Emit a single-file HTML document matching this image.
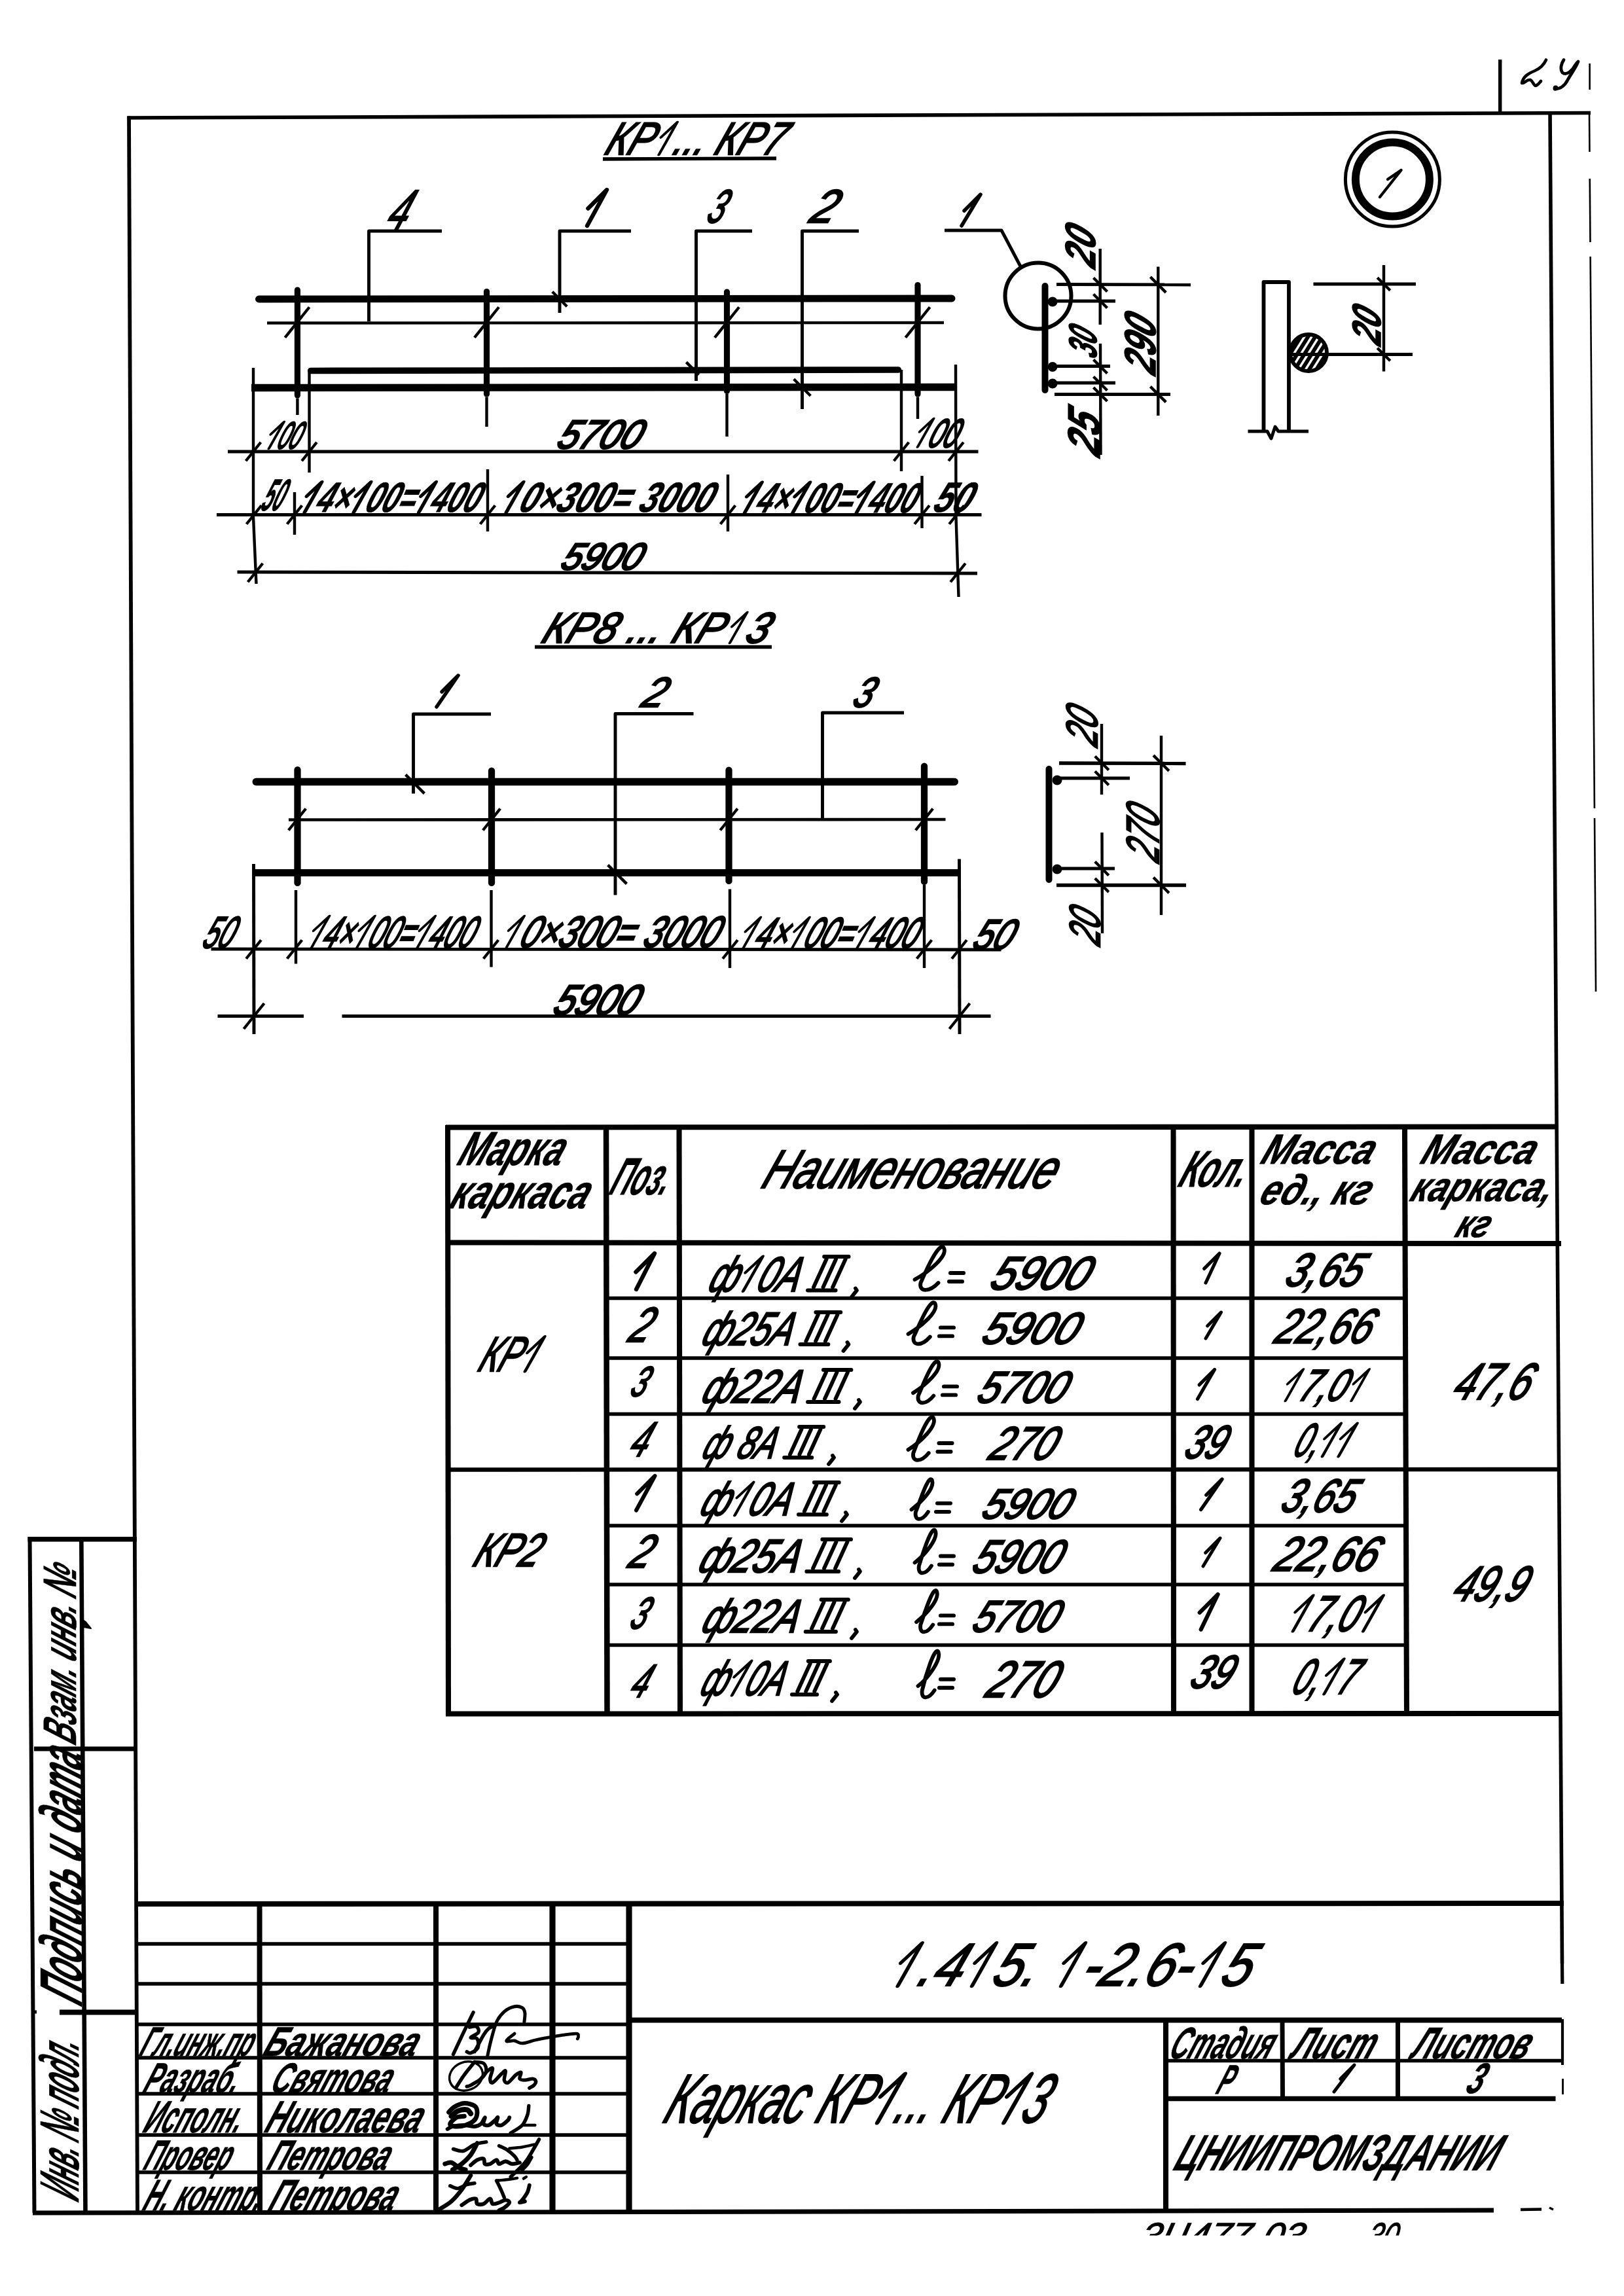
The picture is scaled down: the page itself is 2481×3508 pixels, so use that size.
<!DOCTYPE html>
<html><head><meta charset="utf-8"><title>1.415.1-2.6-15</title>
<style>
html,body{margin:0;padding:0;background:#fff;}
body{width:2481px;height:3508px;overflow:hidden;font-family:"Liberation Sans",sans-serif;}
svg{position:absolute;left:0;top:0;display:block;filter:grayscale(1)}
svg text{font-family:"Liberation Sans",sans-serif;fill:#000;stroke:#000;}
</style></head><body>
<svg width="2481" height="3508" viewBox="0 0 2481 3508" stroke="#000" fill="none">
<line x1="197" y1="177.5" x2="210" y2="3381" stroke-width="5.8"/>
<line x1="194.5" y1="180" x2="2430" y2="172.5" stroke-width="5.6"/>
<line x1="2368" y1="172" x2="2386.5" y2="3000" stroke-width="5.6"/>
<line x1="2386.5" y1="3000" x2="2386.8" y2="3031" stroke-width="5.2"/>
<line x1="2387" y1="3085" x2="2387" y2="3155" stroke-width="4.2"/>
<line x1="2387.5" y1="3176" x2="2387.5" y2="3200" stroke-width="2.9"/>
<line x1="2428.0" y1="173" x2="2428.439642324888" y2="232" stroke-width="2.6"/>
<line x1="2428.7451564828616" y1="273" x2="2429.467958271237" y2="370" stroke-width="2.6"/>
<line x1="2429.6318926974664" y1="392" x2="2435.913561847988" y2="1235" stroke-width="2.6"/>
<line x1="2436.025335320417" y1="1250" x2="2438.0" y2="1515" stroke-width="2.6"/>
<line x1="2291.7" y1="91" x2="2291.7" y2="173" stroke-width="5.4"/>
<line x1="2428.6" y1="97" x2="2428.6" y2="137" stroke-width="2.6"/>
<path d="M2362 91.5 C2358 100,2352 105,2345 108 C2336 112,2327 116,2325 127 C2329 128,2332 121,2338 122 C2342 124,2343 131,2346 131 C2350 130,2352 126,2354 124" stroke-width="4.6" fill="none" stroke-linecap="round" stroke-linejoin="round"/>
<path d="M2389 91.5 C2385 97,2383 106,2387 111 C2393 116,2402 108,2406 100 C2408 97,2410 95,2411 94 C2407 104,2400 113,2395 122 C2391 130,2384 136,2375 136" stroke-width="4.8" fill="none" stroke-linecap="round" stroke-linejoin="round"/>
<circle cx="2376.5" cy="134.5" r="2" stroke-width="3.9" fill="#000"/>
<line x1="45.5" y1="2348" x2="52.5" y2="3381" stroke-width="6"/>
<line x1="124.3" y1="2351" x2="130.5" y2="3381" stroke-width="6.6"/>
<line x1="42.5" y1="2351.7" x2="209" y2="2351.7" stroke-width="7.6"/>
<line x1="52" y1="2672" x2="208" y2="2672" stroke-width="7"/>
<line x1="49" y1="3074" x2="56" y2="3074" stroke-width="5"/>
<line x1="91" y1="3074.5" x2="208.5" y2="3074.5" stroke-width="7.8"/>
<path d="M125 2474 L131 2478 L139 2488 L128 2486 L125 2490 Z" stroke-width="2" fill="#000" stroke-linecap="round" stroke-linejoin="round"/>
<line x1="207" y1="2909" x2="2389" y2="2908" stroke-width="8.05"/>
<line x1="209" y1="2970" x2="961" y2="2970" stroke-width="5.52"/>
<line x1="209" y1="3031" x2="961" y2="3031" stroke-width="5.52"/>
<line x1="209" y1="3093" x2="961" y2="3093" stroke-width="5.52"/>
<line x1="209" y1="3144" x2="961" y2="3144" stroke-width="5.52"/>
<line x1="209" y1="3199" x2="961" y2="3199" stroke-width="5.52"/>
<line x1="209" y1="3262" x2="961" y2="3262" stroke-width="5.52"/>
<line x1="209" y1="3319" x2="961" y2="3319" stroke-width="5.52"/>
<line x1="396.5" y1="2909" x2="397" y2="3380" stroke-width="8.05"/>
<line x1="666" y1="2909" x2="666" y2="3380" stroke-width="8.05"/>
<line x1="844" y1="2909" x2="844" y2="3380" stroke-width="9.15"/>
<line x1="961" y1="2909" x2="961" y2="3380" stroke-width="9.15"/>
<line x1="961" y1="3086.5" x2="2386" y2="3086.5" stroke-width="8.05"/>
<line x1="1781" y1="3086" x2="1781" y2="3379" stroke-width="8.05"/>
<line x1="1781" y1="3148.5" x2="2389" y2="3148.5" stroke-width="5.4"/>
<line x1="1781" y1="3206.5" x2="2376.5" y2="3206.5" stroke-width="7.4"/>
<line x1="1959" y1="3086" x2="1959.5" y2="3206" stroke-width="6.95"/>
<line x1="2135.5" y1="3086" x2="2135.5" y2="3206" stroke-width="6.95"/>
<line x1="50" y1="3381" x2="1000" y2="3379.5" stroke-width="6.95"/>
<line x1="1000" y1="3379.5" x2="2282" y2="3377" stroke-width="6.95"/>
<line x1="2323" y1="3376" x2="2355" y2="3375.5" stroke-width="4.4"/>
<line x1="2367" y1="3373" x2="2373" y2="3376" stroke-width="3.4"/>
<line x1="684" y1="1719" x2="685" y2="2622" stroke-width="8.05"/>
<line x1="681" y1="1722.5" x2="2379" y2="1721.5" stroke-width="8.05"/>
<line x1="681" y1="1898.5" x2="2385" y2="1900" stroke-width="8.05"/>
<line x1="926" y1="1722" x2="927.5" y2="2619" stroke-width="8.49"/>
<line x1="1037.5" y1="1722" x2="1039" y2="2619" stroke-width="8.05"/>
<line x1="1792.5" y1="1722" x2="1793" y2="2619" stroke-width="8.05"/>
<line x1="1912.5" y1="1722" x2="1912.5" y2="2619" stroke-width="8.05"/>
<line x1="2146" y1="1722" x2="2149" y2="2619" stroke-width="8.05"/>
<line x1="926" y1="1983.5" x2="2147" y2="1983.5" stroke-width="5.4"/>
<line x1="926" y1="2075" x2="2147" y2="2075" stroke-width="5.4"/>
<line x1="926" y1="2160.5" x2="2147" y2="2160.5" stroke-width="5.4"/>
<line x1="684" y1="2245.5" x2="2383" y2="2245" stroke-width="6.4"/>
<line x1="927" y1="2331" x2="2148" y2="2331" stroke-width="5.4"/>
<line x1="927" y1="2421" x2="2148" y2="2421" stroke-width="5.4"/>
<line x1="927" y1="2513.5" x2="2148" y2="2513.5" stroke-width="5.4"/>
<line x1="681" y1="2618.5" x2="2384" y2="2618" stroke-width="8.05"/>
<line x1="395.4" y1="457.0" x2="1454.1" y2="456.0" stroke-width="10.8" stroke-linecap="round"/>
<line x1="408" y1="493.5" x2="1442" y2="493" stroke-width="4.4"/>
<line x1="474.8" y1="566.5" x2="1372.2" y2="565.0" stroke-width="9.7" stroke-linecap="round"/>
<line x1="384" y1="592.5" x2="1460" y2="591.5" stroke-width="11.35"/>
<line x1="454.4" y1="443.1" x2="454.4" y2="603.9" stroke-width="9.15" stroke-linecap="round"/>
<line x1="454.4" y1="608.5" x2="454.4" y2="634" stroke-width="4.4"/>
<line x1="743.5" y1="445.6" x2="743.5" y2="601.9" stroke-width="9.15" stroke-linecap="round"/>
<line x1="743.5" y1="606.5" x2="743.5" y2="652" stroke-width="4.4"/>
<line x1="1110.5" y1="446.1" x2="1110.5" y2="597.4" stroke-width="9.15" stroke-linecap="round"/>
<line x1="1110.5" y1="602" x2="1110.5" y2="667" stroke-width="4.4"/>
<line x1="1402.0" y1="435.6" x2="1402.0" y2="601.9" stroke-width="9.15" stroke-linecap="round"/>
<line x1="1402" y1="606.5" x2="1402" y2="640" stroke-width="4.4"/>
<path d="M387 562 L387 790 L391.5 892" stroke-width="4.4" fill="none" stroke-linecap="butt" stroke-linejoin="round"/>
<line x1="472.5" y1="565" x2="472.5" y2="722" stroke-width="4.4"/>
<line x1="1377" y1="565" x2="1377" y2="720" stroke-width="4.4"/>
<path d="M1460 557 L1460.5 790 L1464.5 912" stroke-width="4.4" fill="none" stroke-linecap="butt" stroke-linejoin="round"/>
<line x1="348" y1="690" x2="1494.5" y2="690" stroke-width="4.9"/>
<line x1="331" y1="786.5" x2="1499.5" y2="786.5" stroke-width="4.9"/>
<line x1="362.5" y1="874" x2="1493" y2="876" stroke-width="4.9"/>
<line x1="450" y1="752" x2="450" y2="817" stroke-width="4.4"/>
<line x1="745" y1="717" x2="745" y2="812" stroke-width="4.4"/>
<line x1="1112" y1="725" x2="1112" y2="812" stroke-width="4.4"/>
<line x1="1408.5" y1="727" x2="1408.5" y2="807" stroke-width="4.4"/>
<line x1="375.6" y1="704.25" x2="398.4" y2="675.75" stroke-width="4.4"/>
<line x1="461.1" y1="704.25" x2="483.9" y2="675.75" stroke-width="4.4"/>
<line x1="1365.6" y1="704.25" x2="1388.4" y2="675.75" stroke-width="4.4"/>
<line x1="1449.1" y1="704.25" x2="1471.9" y2="675.75" stroke-width="4.4"/>
<line x1="376.6" y1="800.75" x2="399.4" y2="772.25" stroke-width="4.4"/>
<line x1="438.6" y1="800.75" x2="461.4" y2="772.25" stroke-width="4.4"/>
<line x1="733.6" y1="800.75" x2="756.4" y2="772.25" stroke-width="4.4"/>
<line x1="1100.6" y1="800.75" x2="1123.4" y2="772.25" stroke-width="4.4"/>
<line x1="1397.1" y1="800.75" x2="1419.9" y2="772.25" stroke-width="4.4"/>
<line x1="1450.1" y1="800.75" x2="1472.9" y2="772.25" stroke-width="4.4"/>
<line x1="378.6" y1="889.25" x2="401.4" y2="860.75" stroke-width="4.4"/>
<line x1="1452.1" y1="889.25" x2="1474.9" y2="860.75" stroke-width="4.4"/>
<line x1="435.4" y1="515.75" x2="472.6" y2="469.25" stroke-width="4.4"/>
<line x1="724.9" y1="515.75" x2="762.1" y2="469.25" stroke-width="4.4"/>
<line x1="1091.9" y1="515.75" x2="1129.1" y2="469.25" stroke-width="4.4"/>
<line x1="1383.4" y1="515.75" x2="1420.6" y2="469.25" stroke-width="4.4"/>
<path d="M675 353 L563.5 353 L563.5 491" stroke-width="4.9" fill="none" stroke-linecap="butt" stroke-linejoin="round"/>
<path d="M964 353 L855 353 L855 478" stroke-width="4.9" fill="none" stroke-linecap="butt" stroke-linejoin="round"/>
<path d="M1149 353 L1063.5 353 L1063.5 582" stroke-width="4.9" fill="none" stroke-linecap="butt" stroke-linejoin="round"/>
<path d="M1312 353 L1225.5 353 L1225.5 625" stroke-width="4.9" fill="none" stroke-linecap="butt" stroke-linejoin="round"/>
<path d="M1443 352 L1530 352 L1559 407" stroke-width="4.9" fill="none" stroke-linecap="butt" stroke-linejoin="round"/>
<line x1="843.8" y1="445.8" x2="866.2" y2="468.2" stroke-width="4.4"/>
<line x1="1048.4" y1="553.4" x2="1067.6" y2="572.6" stroke-width="4.4"/>
<line x1="1212.7" y1="579.2" x2="1238.3" y2="604.8" stroke-width="4.4"/>
<circle cx="1586" cy="452" r="50.5" stroke-width="6" fill="none"/>
<line x1="1596.5" y1="437.0" x2="1596.5" y2="596.0" stroke-width="10" stroke-linecap="round"/>
<line x1="1614" y1="434.5" x2="1819" y2="435" stroke-width="4.9"/>
<circle cx="1608" cy="461" r="7.5" stroke-width="0" fill="#000"/>
<line x1="1608" y1="460" x2="1704" y2="460" stroke-width="4.9"/>
<circle cx="1608" cy="560.5" r="7.5" stroke-width="0" fill="#000"/>
<line x1="1608" y1="559.5" x2="1696" y2="559.5" stroke-width="4.9"/>
<circle cx="1608" cy="586" r="7.5" stroke-width="0" fill="#000"/>
<line x1="1608" y1="585" x2="1704" y2="585" stroke-width="4.9"/>
<line x1="1611" y1="602.5" x2="1788" y2="602.5" stroke-width="4.9"/>
<line x1="1680.7" y1="380" x2="1680.7" y2="496" stroke-width="4.4"/>
<line x1="1681" y1="525" x2="1681.5" y2="695" stroke-width="4.4"/>
<line x1="1769.3" y1="407.5" x2="1769.3" y2="635" stroke-width="4.4"/>
<line x1="1670.5" y1="424.5" x2="1691.5" y2="445.5" stroke-width="4.4"/>
<line x1="1670.5" y1="449.5" x2="1691.5" y2="470.5" stroke-width="4.4"/>
<line x1="1670.5" y1="549.5" x2="1691.5" y2="570.5" stroke-width="4.4"/>
<line x1="1670.5" y1="575.5" x2="1691.5" y2="596.5" stroke-width="4.4"/>
<line x1="1670.5" y1="592.0" x2="1691.5" y2="613.0" stroke-width="4.4"/>
<line x1="1757.3999999999999" y1="423.1" x2="1781.2" y2="446.9" stroke-width="4.4"/>
<line x1="1757.3999999999999" y1="590.6" x2="1781.2" y2="614.4" stroke-width="4.4"/>
<path d="M1930.5 659 L1930.5 431 L1969 431 L1969 659" stroke-width="5.85" fill="none" stroke-linecap="butt" stroke-linejoin="round"/>
<path d="M1906.5 659 L1936 659 L1942 670 L1948 652 L1953 659 L1999 659" stroke-width="4.9" fill="none" stroke-linecap="butt" stroke-linejoin="round"/>
<defs><clipPath id="hc"><circle cx="1999" cy="539" r="29"/></clipPath></defs>
<circle cx="1999" cy="539" r="28" stroke-width="5.85" fill="none"/>
<g clip-path="url(#hc)">
<line x1="1919" y1="571" x2="1959" y2="507" stroke-width="5.85"/>
<line x1="1930" y1="571" x2="1970" y2="507" stroke-width="5.85"/>
<line x1="1941" y1="571" x2="1981" y2="507" stroke-width="5.85"/>
<line x1="1952" y1="571" x2="1992" y2="507" stroke-width="5.85"/>
<line x1="1963" y1="571" x2="2003" y2="507" stroke-width="5.85"/>
<line x1="1974" y1="571" x2="2014" y2="507" stroke-width="5.85"/>
<line x1="1985" y1="571" x2="2025" y2="507" stroke-width="5.85"/>
<line x1="1996" y1="571" x2="2036" y2="507" stroke-width="5.85"/>
<line x1="2007" y1="571" x2="2047" y2="507" stroke-width="5.85"/>
<line x1="2018" y1="571" x2="2058" y2="507" stroke-width="5.85"/>
<line x1="2029" y1="571" x2="2069" y2="507" stroke-width="5.85"/>
<line x1="2040" y1="571" x2="2080" y2="507" stroke-width="5.85"/>
</g>
<line x1="1969" y1="541.5" x2="2158" y2="541.5" stroke-width="4.9"/>
<line x1="2006.5" y1="434" x2="2163" y2="434" stroke-width="4.9"/>
<line x1="2114" y1="405" x2="2114" y2="567.5" stroke-width="4.4"/>
<line x1="2104.2" y1="424.2" x2="2123.8" y2="443.8" stroke-width="4.4"/>
<line x1="2104.2" y1="531.7" x2="2123.8" y2="551.3" stroke-width="4.4"/>
<circle cx="2127.4" cy="274" r="72" stroke-width="5" fill="none"/>
<circle cx="2127.4" cy="274" r="56.5" stroke-width="12" fill="none"/>
<path d="M2108 301 L2140.5 260 M2140.5 260 L2120 274" stroke-width="4.4" fill="none" stroke-linecap="round" stroke-linejoin="round"/>
<line x1="391.2" y1="1194.5" x2="1458.3" y2="1194.5" stroke-width="11.35" stroke-linecap="round"/>
<line x1="441" y1="1252.5" x2="1444.5" y2="1252" stroke-width="4.6"/>
<line x1="386.5" y1="1333.5" x2="1464.5" y2="1333.5" stroke-width="10.8"/>
<line x1="454.5" y1="1176.1" x2="454.5" y2="1348.9" stroke-width="10.25" stroke-linecap="round"/>
<line x1="452" y1="1360" x2="452" y2="1472.5" stroke-width="4.4"/>
<line x1="751.0" y1="1177.6" x2="751.0" y2="1348.9" stroke-width="10.25" stroke-linecap="round"/>
<line x1="750.5" y1="1360" x2="750.5" y2="1477.5" stroke-width="4.4"/>
<line x1="1113.5" y1="1176.6" x2="1113.5" y2="1345.9" stroke-width="10.25" stroke-linecap="round"/>
<line x1="1115" y1="1358.5" x2="1115" y2="1479" stroke-width="4.4"/>
<line x1="1412.0" y1="1170.6" x2="1412.0" y2="1346.9" stroke-width="10.25" stroke-linecap="round"/>
<line x1="1412" y1="1352" x2="1412" y2="1479" stroke-width="4.4"/>
<line x1="387.5" y1="1320" x2="388" y2="1580" stroke-width="4.9"/>
<line x1="1465.5" y1="1312.5" x2="1466" y2="1580" stroke-width="4.9"/>
<line x1="322.5" y1="1450" x2="1529.5" y2="1451" stroke-width="4.9"/>
<line x1="332.5" y1="1552.5" x2="464" y2="1552.5" stroke-width="4.9"/>
<line x1="522.5" y1="1552.5" x2="1513.5" y2="1552.5" stroke-width="4.9"/>
<path d="M750 1091 L631.5 1091 L631.5 1212.5" stroke-width="4.9" fill="none" stroke-linecap="butt" stroke-linejoin="round"/>
<path d="M1059.5 1090.5 L940 1090.5 L940 1367.5" stroke-width="4.9" fill="none" stroke-linecap="butt" stroke-linejoin="round"/>
<path d="M1381 1089 L1256.5 1089 L1256.5 1250" stroke-width="4.9" fill="none" stroke-linecap="butt" stroke-linejoin="round"/>
<line x1="376.1" y1="1464.75" x2="398.9" y2="1436.25" stroke-width="4.4"/>
<line x1="438.6" y1="1464.75" x2="461.4" y2="1436.25" stroke-width="4.4"/>
<line x1="738.6" y1="1464.75" x2="761.4" y2="1436.25" stroke-width="4.4"/>
<line x1="1104.1" y1="1464.75" x2="1126.9" y2="1436.25" stroke-width="4.4"/>
<line x1="1400.6" y1="1464.75" x2="1423.4" y2="1436.25" stroke-width="4.4"/>
<line x1="1454.1" y1="1464.75" x2="1476.9" y2="1436.25" stroke-width="4.4"/>
<line x1="372.4" y1="1572.0" x2="403.6" y2="1533.0" stroke-width="4.4"/>
<line x1="1450.4" y1="1572.0" x2="1481.6" y2="1533.0" stroke-width="4.4"/>
<line x1="440.8" y1="1268.5" x2="467.2" y2="1235.5" stroke-width="4.4"/>
<line x1="737.8" y1="1268.5" x2="764.2" y2="1235.5" stroke-width="4.4"/>
<line x1="1100.3" y1="1268.5" x2="1126.7" y2="1235.5" stroke-width="4.4"/>
<line x1="1398.8" y1="1268.5" x2="1425.2" y2="1235.5" stroke-width="4.4"/>
<line x1="619.6" y1="1183.6" x2="648.4" y2="1212.4" stroke-width="4.4"/>
<line x1="928.6" y1="1321.6" x2="957.4" y2="1350.4" stroke-width="4.4"/>
<line x1="1602.5" y1="1175.0" x2="1602.5" y2="1344.0" stroke-width="10" stroke-linecap="round"/>
<line x1="1618" y1="1166" x2="1811.5" y2="1166.5" stroke-width="5.4"/>
<line x1="1614" y1="1352.5" x2="1812" y2="1352.5" stroke-width="5.4"/>
<circle cx="1615" cy="1192" r="7.5" stroke-width="0" fill="#000"/>
<line x1="1615" y1="1189" x2="1726" y2="1189" stroke-width="4.9"/>
<circle cx="1615" cy="1328" r="7.5" stroke-width="0" fill="#000"/>
<line x1="1615" y1="1327" x2="1703" y2="1327" stroke-width="4.9"/>
<line x1="1683" y1="1106" x2="1683" y2="1214" stroke-width="4.4"/>
<line x1="1683.5" y1="1272" x2="1684" y2="1426" stroke-width="4.4"/>
<line x1="1774" y1="1124" x2="1774" y2="1398" stroke-width="4.4"/>
<line x1="1672.8" y1="1155.5" x2="1693.8" y2="1176.5" stroke-width="4.4"/>
<line x1="1672.8" y1="1178.5" x2="1693.8" y2="1199.5" stroke-width="4.4"/>
<line x1="1672.8" y1="1316.5" x2="1693.8" y2="1337.5" stroke-width="4.4"/>
<line x1="1672.8" y1="1342.0" x2="1693.8" y2="1363.0" stroke-width="4.4"/>
<line x1="1762.1" y1="1154.1" x2="1785.9" y2="1177.9" stroke-width="4.4"/>
<line x1="1762.1" y1="1340.6" x2="1785.9" y2="1364.4" stroke-width="4.4"/>
<g transform="translate(921.5,236.0) skewX(-22)" font-style="italic" font-size="70.0" stroke-width="2.6">
<text x="0.0" y="0" textLength="71.9" lengthAdjust="spacingAndGlyphs">КР</text>
<path d="M85.3 0 L93.1 -49.0 L77.9 -26.5" stroke-width="4.7" stroke-linecap="round" stroke-linejoin="round"/>
<text x="103.7" y="0" textLength="167.4" lengthAdjust="spacingAndGlyphs">... КР7</text>
</g>
<line x1="921" y1="243" x2="1186" y2="242" stroke-width="5.4"/>
<g transform="translate(587.0,350.0) skewX(-22)" font-style="italic" font-size="85.7" stroke-width="2.6">
<text x="0.0" y="0" textLength="30.9" lengthAdjust="spacingAndGlyphs">4</text>
</g>
<path d="M897.0 345.0 L927.0 290.0 L898.4 318.6" stroke-width="6.325" fill="none" stroke-linecap="round" stroke-linejoin="round"/>
<g transform="translate(1076.5,340.0) skewX(-22)" font-style="italic" font-size="71.4" stroke-width="2.6">
<text x="0.0" y="0" textLength="25.7" lengthAdjust="spacingAndGlyphs">3</text>
</g>
<g transform="translate(1234.0,340.0) skewX(-22)" font-style="italic" font-size="71.4" stroke-width="2.6">
<text x="0.0" y="0" textLength="37.8" lengthAdjust="spacingAndGlyphs">2</text>
</g>
<path d="M1469.0 345.0 L1498.0 297.0 L1473.0 322.0" stroke-width="5.5200000000000005" fill="none" stroke-linecap="round" stroke-linejoin="round"/>
<g transform="translate(403.8,685.0) skewX(-22)" font-style="italic" font-size="57.1" stroke-width="3.0">
<path d="M7.2 0 L13.6 -40.0 L1.2 -21.6" stroke-width="4.5" stroke-linecap="round" stroke-linejoin="round"/>
<text x="17.1" y="0" textLength="34.2" lengthAdjust="spacingAndGlyphs">00</text>
</g>
<g transform="translate(848.0,685.0) skewX(-22)" font-style="italic" font-size="61.4" stroke-width="3.0">
<text x="0.0" y="0" textLength="126.7" lengthAdjust="spacingAndGlyphs">5700</text>
</g>
<g transform="translate(1392.9,682.5) skewX(-22)" font-style="italic" font-size="60.7" stroke-width="3.0">
<path d="M9.2 0 L16.0 -42.5 L2.9 -23.0" stroke-width="4.5" stroke-linecap="round" stroke-linejoin="round"/>
<text x="22.0" y="0" textLength="44.0" lengthAdjust="spacingAndGlyphs">00</text>
</g>
<g transform="translate(396.2,780.0) skewX(-22)" font-style="italic" font-weight="bold" font-size="68.6" stroke-width="0.9">
<text x="0.0" y="0" textLength="32.1" lengthAdjust="spacingAndGlyphs">50</text>
</g>
<g transform="translate(455.5,782.0) skewX(-22)" font-style="italic" font-weight="bold" font-size="64.3" stroke-width="0.9">
<path d="M10.3 0 L17.5 -45.0 L3.6 -24.3" stroke-width="6.1" stroke-linecap="round" stroke-linejoin="round"/>
<text x="24.6" y="0" textLength="50.4" lengthAdjust="spacingAndGlyphs">4×</text>
<path d="M85.3 0 L92.5 -45.0 L78.5 -24.3" stroke-width="6.1" stroke-linecap="round" stroke-linejoin="round"/>
<text x="99.5" y="0" textLength="75.0" lengthAdjust="spacingAndGlyphs">00=</text>
<path d="M184.8 0 L192.0 -45.0 L178.1 -24.3" stroke-width="6.1" stroke-linecap="round" stroke-linejoin="round"/>
<text x="199.1" y="0" textLength="73.7" lengthAdjust="spacingAndGlyphs">400</text>
</g>
<g transform="translate(762.3,782.0) skewX(-22)" font-style="italic" font-weight="bold" font-size="64.3" stroke-width="0.9">
<path d="M11.6 0 L18.8 -45.0 L4.9 -24.3" stroke-width="6.1" stroke-linecap="round" stroke-linejoin="round"/>
<text x="27.7" y="0" textLength="293.9" lengthAdjust="spacingAndGlyphs">0×300= 3000</text>
</g>
<g transform="translate(1128.1,782.5) skewX(-22)" font-style="italic" font-weight="bold" font-size="64.3" stroke-width="0.9">
<path d="M10.1 0 L17.3 -45.0 L3.4 -24.3" stroke-width="6.1" stroke-linecap="round" stroke-linejoin="round"/>
<text x="24.1" y="0" textLength="49.3" lengthAdjust="spacingAndGlyphs">4×</text>
<path d="M83.5 0 L90.7 -45.0 L76.7 -24.3" stroke-width="6.1" stroke-linecap="round" stroke-linejoin="round"/>
<text x="97.4" y="0" textLength="73.4" lengthAdjust="spacingAndGlyphs">00=</text>
<path d="M180.9 0 L188.1 -45.0 L174.2 -24.3" stroke-width="6.1" stroke-linecap="round" stroke-linejoin="round"/>
<text x="194.9" y="0" textLength="72.2" lengthAdjust="spacingAndGlyphs">400</text>
</g>
<g transform="translate(1423.1,782.0) skewX(-22)" font-style="italic" font-weight="bold" font-size="64.3" stroke-width="0.9">
<text x="0.0" y="0" textLength="57.0" lengthAdjust="spacingAndGlyphs">50</text>
</g>
<g transform="translate(854.1,870.0) skewX(-22)" font-style="italic" font-size="57.1" stroke-width="3.0">
<text x="0.0" y="0" textLength="121.6" lengthAdjust="spacingAndGlyphs">5900</text>
</g>
<g transform="translate(824.8,982.0) skewX(-22)" font-style="italic" font-size="65.7" stroke-width="2.6">
<text x="0.0" y="0" textLength="276.0" lengthAdjust="spacingAndGlyphs">КР8 ... КР</text>
<path d="M290.4 0 L297.8 -46.0 L283.5 -24.8" stroke-width="4.5" stroke-linecap="round" stroke-linejoin="round"/>
<text x="310.4" y="0" textLength="34.4" lengthAdjust="spacingAndGlyphs">3</text>
</g>
<line x1="817" y1="988.5" x2="1179" y2="988.5" stroke-width="5.4"/>
<text transform="translate(1673.0,412.0) rotate(-90) skewX(-22)" font-style="italic" font-weight="bold" font-size="65.0" textLength="58.1" lengthAdjust="spacingAndGlyphs" stroke-width="1.6">20</text>
<text transform="translate(1675.0,549.4) rotate(-90) skewX(-22)" font-style="italic" font-weight="bold" font-size="60.0" textLength="41.7" lengthAdjust="spacingAndGlyphs" stroke-width="1.6">30</text>
<text transform="translate(1765.0,575.0) rotate(-90) skewX(-22)" font-style="italic" font-weight="bold" font-size="67.1" textLength="85.3" lengthAdjust="spacingAndGlyphs" stroke-width="1.6">290</text>
<text transform="translate(1679.6,700.0) rotate(-90) skewX(-22)" font-style="italic" font-weight="bold" font-size="69.4" textLength="63.4" lengthAdjust="spacingAndGlyphs" stroke-width="1.6">25</text>
<text transform="translate(2109.0,530.0) rotate(-90) skewX(-22)" font-style="italic" font-weight="bold" font-size="61.4" textLength="52.6" lengthAdjust="spacingAndGlyphs" stroke-width="1.6">20</text>
<path d="M667.0 1080.0 L700.0 1032.0 L675.0 1057.0" stroke-width="5.5200000000000005" fill="none" stroke-linecap="round" stroke-linejoin="round"/>
<g transform="translate(977.0,1080.0) skewX(-22)" font-style="italic" font-size="64.3" stroke-width="2.6">
<text x="0.0" y="0" textLength="34.3" lengthAdjust="spacingAndGlyphs">2</text>
</g>
<g transform="translate(1299.5,1080.0) skewX(-22)" font-style="italic" font-size="64.3" stroke-width="2.6">
<text x="0.0" y="0" textLength="29.3" lengthAdjust="spacingAndGlyphs">3</text>
</g>
<g transform="translate(306.4,1447.5) skewX(-22)" font-style="italic" font-size="67.9" stroke-width="2.8">
<text x="0.0" y="0" textLength="45.5" lengthAdjust="spacingAndGlyphs">50</text>
</g>
<g transform="translate(466.5,1447.5) skewX(-22)" font-style="italic" font-size="67.9" stroke-width="2.8">
<path d="M9.6 0 L17.2 -47.5 L2.4 -25.7" stroke-width="4.5" stroke-linecap="round" stroke-linejoin="round"/>
<text x="22.8" y="0" textLength="46.7" lengthAdjust="spacingAndGlyphs">4×</text>
<path d="M79.0 0 L86.6 -47.5 L71.9 -25.7" stroke-width="4.5" stroke-linecap="round" stroke-linejoin="round"/>
<text x="92.3" y="0" textLength="69.5" lengthAdjust="spacingAndGlyphs">00=</text>
<path d="M171.3 0 L178.9 -47.5 L164.2 -25.7" stroke-width="4.5" stroke-linecap="round" stroke-linejoin="round"/>
<text x="184.5" y="0" textLength="68.3" lengthAdjust="spacingAndGlyphs">400</text>
</g>
<g transform="translate(762.1,1447.0) skewX(-22)" font-style="italic" font-size="67.1" stroke-width="2.8">
<path d="M12.0 0 L19.5 -47.0 L4.9 -25.4" stroke-width="4.5" stroke-linecap="round" stroke-linejoin="round"/>
<text x="28.6" y="0" textLength="302.7" lengthAdjust="spacingAndGlyphs">0×300= 3000</text>
</g>
<g transform="translate(1125.5,1448.0) skewX(-22)" font-style="italic" font-size="65.7" stroke-width="2.8">
<path d="M10.3 0 L17.6 -46.0 L3.4 -24.8" stroke-width="4.5" stroke-linecap="round" stroke-linejoin="round"/>
<text x="24.5" y="0" textLength="50.2" lengthAdjust="spacingAndGlyphs">4×</text>
<path d="M85.0 0 L92.3 -46.0 L78.1 -24.8" stroke-width="4.5" stroke-linecap="round" stroke-linejoin="round"/>
<text x="99.2" y="0" textLength="74.7" lengthAdjust="spacingAndGlyphs">00=</text>
<path d="M184.2 0 L191.5 -46.0 L177.3 -24.8" stroke-width="4.5" stroke-linecap="round" stroke-linejoin="round"/>
<text x="198.4" y="0" textLength="73.5" lengthAdjust="spacingAndGlyphs">400</text>
</g>
<g transform="translate(1483.1,1450.0) skewX(-22)" font-style="italic" font-size="64.3" stroke-width="2.8">
<text x="0.0" y="0" textLength="59.7" lengthAdjust="spacingAndGlyphs">50</text>
</g>
<g transform="translate(842.0,1550.0) skewX(-22)" font-style="italic" font-size="64.3" stroke-width="3.0">
<text x="0.0" y="0" textLength="127.9" lengthAdjust="spacingAndGlyphs">5900</text>
</g>
<text transform="translate(1676.0,1143.0) rotate(-90) skewX(-22)" font-style="italic" font-weight="normal" font-size="67.1" textLength="54.0" lengthAdjust="spacingAndGlyphs" stroke-width="2.8">20</text>
<text transform="translate(1770.0,1320.0) rotate(-90) skewX(-22)" font-style="italic" font-weight="normal" font-size="70.0" textLength="80.2" lengthAdjust="spacingAndGlyphs" stroke-width="2.8">270</text>
<text transform="translate(1680.0,1447.0) rotate(-90) skewX(-22)" font-style="italic" font-weight="normal" font-size="65.7" textLength="50.4" lengthAdjust="spacingAndGlyphs" stroke-width="2.8">20</text>
<g transform="translate(696.2,1780.0) skewX(-22)" font-style="italic" font-weight="bold" font-size="72.9" stroke-width="0.9">
<text x="0.0" y="0" textLength="159.0" lengthAdjust="spacingAndGlyphs">Марка</text>
</g>
<g transform="translate(684.0,1846.0) skewX(-22)" font-style="italic" font-weight="bold" font-size="72.0" stroke-width="0.9">
<text x="0.0" y="0" textLength="209.6" lengthAdjust="spacingAndGlyphs">каркаса</text>
</g>
<g transform="translate(928.4,1825.0) skewX(-22)" font-style="italic" font-weight="bold" font-size="80.0" stroke-width="0.9">
<text x="0.0" y="0" textLength="87.0" lengthAdjust="spacingAndGlyphs">Поз.</text>
</g>
<g transform="translate(1160.4,1815.0) skewX(-22)" font-style="italic" font-size="82.9" stroke-width="2.4">
<text x="0.0" y="0" textLength="446.8" lengthAdjust="spacingAndGlyphs">Наименование</text>
</g>
<g transform="translate(1797.6,1812.5) skewX(-22)" font-style="italic" font-weight="bold" font-size="78.6" stroke-width="0.9">
<text x="0.0" y="0" textLength="99.2" lengthAdjust="spacingAndGlyphs">Кол.</text>
</g>
<g transform="translate(1923.5,1777.5) skewX(-22)" font-style="italic" font-weight="bold" font-size="64.3" stroke-width="0.9">
<text x="0.0" y="0" textLength="169.9" lengthAdjust="spacingAndGlyphs">Масса</text>
</g>
<g transform="translate(1921.0,1840.0) skewX(-22)" font-style="italic" font-weight="bold" font-size="64.4" stroke-width="0.9">
<text x="0.0" y="0" textLength="166.7" lengthAdjust="spacingAndGlyphs">ед., кг</text>
</g>
<g transform="translate(2167.4,1777.5) skewX(-22)" font-style="italic" font-weight="bold" font-size="64.3" stroke-width="0.9">
<text x="0.0" y="0" textLength="172.5" lengthAdjust="spacingAndGlyphs">Масса</text>
</g>
<g transform="translate(2151.4,1835.0) skewX(-22)" font-style="italic" font-weight="bold" font-size="62.5" stroke-width="0.9">
<text x="0.0" y="0" textLength="214.4" lengthAdjust="spacingAndGlyphs">каркаса,</text>
</g>
<g transform="translate(2220.3,1890.0) skewX(-22)" font-style="italic" font-weight="bold" font-size="58.7" stroke-width="0.9">
<text x="0.0" y="0" textLength="49.8" lengthAdjust="spacingAndGlyphs">кг</text>
</g>
<g transform="translate(727.8,2095.0) skewX(-22)" font-style="italic" font-size="75.0" stroke-width="2.6">
<text x="0.0" y="0" textLength="62.8" lengthAdjust="spacingAndGlyphs">КР</text>
<path d="M74.5 0 L82.9 -52.5 L66.6 -28.4" stroke-width="5.0" stroke-linecap="round" stroke-linejoin="round"/>
</g>
<g transform="translate(720.1,2392.5) skewX(-22)" font-style="italic" font-size="71.4" stroke-width="2.6">
<text x="0.0" y="0" textLength="99.5" lengthAdjust="spacingAndGlyphs">КР2</text>
</g>
<path d="M972.0 1970.0 L1000.0 1915.0 L971.4 1943.6" stroke-width="6.325" fill="none" stroke-linecap="round" stroke-linejoin="round"/>
<g transform="translate(957.0,2050.0) skewX(-22)" font-style="italic" font-size="75.0" stroke-width="2.6">
<text x="0.0" y="0" textLength="31.8" lengthAdjust="spacingAndGlyphs">2</text>
</g>
<g transform="translate(960.0,2132.5) skewX(-22)" font-style="italic" font-size="64.3" stroke-width="2.6">
<text x="0.0" y="0" textLength="23.8" lengthAdjust="spacingAndGlyphs">3</text>
</g>
<g transform="translate(958.4,2225.0) skewX(-22)" font-style="italic" font-size="75.0" stroke-width="2.6">
<text x="0.0" y="0" textLength="27.0" lengthAdjust="spacingAndGlyphs">4</text>
</g>
<path d="M972.0 2307.5 L1000.5 2255.0 L973.2 2282.3" stroke-width="6.0375000000000005" fill="none" stroke-linecap="round" stroke-linejoin="round"/>
<g transform="translate(957.0,2395.0) skewX(-22)" font-style="italic" font-size="71.4" stroke-width="2.6">
<text x="0.0" y="0" textLength="32.8" lengthAdjust="spacingAndGlyphs">2</text>
</g>
<g transform="translate(959.2,2487.5) skewX(-22)" font-style="italic" font-size="67.9" stroke-width="2.6">
<text x="0.0" y="0" textLength="24.4" lengthAdjust="spacingAndGlyphs">3</text>
</g>
<g transform="translate(959.5,2592.5) skewX(-22)" font-style="italic" font-size="71.4" stroke-width="2.6">
<text x="0.0" y="0" textLength="25.7" lengthAdjust="spacingAndGlyphs">4</text>
</g>
<g transform="translate(1079.2,1972.5) skewX(-22)" font-style="italic" font-size="75.0" stroke-width="2.6">
<text x="0.0" y="0" textLength="44.0" lengthAdjust="spacingAndGlyphs">ф</text>
<path d="M56.3 0 L64.7 -52.5 L48.4 -28.4" stroke-width="5.0" stroke-linecap="round" stroke-linejoin="round"/>
<text x="73.2" y="0" textLength="64.4" lengthAdjust="spacingAndGlyphs">0А</text>
</g>
<line x1="1259.1" y1="1920.0" x2="1296.6" y2="1920.0" stroke-width="5.85" stroke-linecap="round"/>
<line x1="1234.0" y1="1971.5" x2="1276.6" y2="1971.5" stroke-width="5.85" stroke-linecap="round"/>
<line x1="1242.9" y1="1966.8" x2="1262.6" y2="1923.7" stroke-width="5.85" stroke-linecap="round"/>
<line x1="1257.5" y1="1966.8" x2="1277.1" y2="1923.7" stroke-width="5.85" stroke-linecap="round"/>
<line x1="1272.1" y1="1966.8" x2="1291.7" y2="1923.7" stroke-width="5.85" stroke-linecap="round"/>
<path d="M1307.0 1968.5 L1309.0 1971.5 L1301.0 1981.5" stroke-width="5.85" fill="none" stroke-linecap="round" stroke-linejoin="round"/>
<path d="M1397.5 1955.0 C1419.5 1943.0,1449.5 1918.0,1441.5 1906.0 C1433.5 1898.0,1413.5 1944.0,1406.5 1960.0 C1403.5 1974.0,1419.5 1975.0,1433.5 1960.0" stroke-width="5.85" fill="none" stroke-linecap="round" stroke-linejoin="round"/>
<line x1="1451.9" y1="1945.0" x2="1472.1" y2="1945.0" stroke-width="5.85" stroke-linecap="round"/>
<line x1="1449.9" y1="1958.0" x2="1470.1" y2="1958.0" stroke-width="5.85" stroke-linecap="round"/>
<g transform="translate(1508.9,1970.0) skewX(-22)" font-style="italic" font-size="71.4" stroke-width="2.6">
<text x="0.0" y="0" textLength="149.4" lengthAdjust="spacingAndGlyphs">5900</text>
</g>
<g transform="translate(1069.2,2055.0) skewX(-22)" font-style="italic" font-size="71.4" stroke-width="2.6">
<text x="0.0" y="0" textLength="137.0" lengthAdjust="spacingAndGlyphs">ф25А</text>
</g>
<line x1="1246.3" y1="2005.0" x2="1284.3" y2="2005.0" stroke-width="5.85" stroke-linecap="round"/>
<line x1="1222.4" y1="2054.0" x2="1265.4" y2="2054.0" stroke-width="5.85" stroke-linecap="round"/>
<line x1="1231.3" y1="2049.3" x2="1249.8" y2="2008.7" stroke-width="5.85" stroke-linecap="round"/>
<line x1="1246.1" y1="2049.3" x2="1264.6" y2="2008.7" stroke-width="5.85" stroke-linecap="round"/>
<line x1="1260.9" y1="2049.3" x2="1279.4" y2="2008.7" stroke-width="5.85" stroke-linecap="round"/>
<path d="M1294.5 2051.0 L1296.5 2054.0 L1288.5 2064.0" stroke-width="5.85" fill="none" stroke-linecap="round" stroke-linejoin="round"/>
<path d="M1387.5 2038.2 C1407.8 2026.2,1435.5 2003.0,1428.2 1991.0 C1420.8 1983.0,1402.3 2029.0,1395.8 2042.5 C1393.0 2056.5,1407.8 2057.5,1420.8 2042.5" stroke-width="5.85" fill="none" stroke-linecap="round" stroke-linejoin="round"/>
<line x1="1436.9" y1="2028.4" x2="1457.1" y2="2028.4" stroke-width="5.85" stroke-linecap="round"/>
<line x1="1434.9" y1="2041.4" x2="1455.1" y2="2041.4" stroke-width="5.85" stroke-linecap="round"/>
<g transform="translate(1496.5,2052.5) skewX(-22)" font-style="italic" font-size="67.9" stroke-width="2.6">
<text x="0.0" y="0" textLength="145.2" lengthAdjust="spacingAndGlyphs">5900</text>
</g>
<g transform="translate(1069.0,2143.0) skewX(-22)" font-style="italic" font-size="71.4" stroke-width="2.6">
<text x="0.0" y="0" textLength="149.0" lengthAdjust="spacingAndGlyphs">ф22А</text>
</g>
<line x1="1257.9" y1="2093.0" x2="1300.5" y2="2093.0" stroke-width="5.85" stroke-linecap="round"/>
<line x1="1234.0" y1="2142.0" x2="1281.6" y2="2142.0" stroke-width="5.85" stroke-linecap="round"/>
<line x1="1243.5" y1="2137.3" x2="1262.0" y2="2096.7" stroke-width="5.85" stroke-linecap="round"/>
<line x1="1260.0" y1="2137.3" x2="1278.5" y2="2096.7" stroke-width="5.85" stroke-linecap="round"/>
<line x1="1276.5" y1="2137.3" x2="1295.0" y2="2096.7" stroke-width="5.85" stroke-linecap="round"/>
<path d="M1312.0 2139.0 L1314.0 2142.0 L1306.0 2152.0" stroke-width="5.85" fill="none" stroke-linecap="round" stroke-linejoin="round"/>
<path d="M1395.0 2128.2 C1414.1 2116.2,1440.2 2093.0,1433.3 2081.0 C1426.3 2073.0,1408.9 2119.0,1402.8 2132.5 C1400.2 2146.5,1414.1 2147.5,1426.3 2132.5" stroke-width="5.85" fill="none" stroke-linecap="round" stroke-linejoin="round"/>
<line x1="1441.9" y1="2118.4" x2="1462.1" y2="2118.4" stroke-width="5.85" stroke-linecap="round"/>
<line x1="1439.9" y1="2131.4" x2="1460.1" y2="2131.4" stroke-width="5.85" stroke-linecap="round"/>
<g transform="translate(1489.3,2142.5) skewX(-22)" font-style="italic" font-size="67.9" stroke-width="2.6">
<text x="0.0" y="0" textLength="134.7" lengthAdjust="spacingAndGlyphs">5700</text>
</g>
<g transform="translate(1069.9,2228.0) skewX(-22)" font-style="italic" font-size="68.6" stroke-width="2.6">
<text x="0.0" y="0" textLength="110.4" lengthAdjust="spacingAndGlyphs">ф 8А</text>
</g>
<line x1="1221.1" y1="2180.0" x2="1258.3" y2="2180.0" stroke-width="5.85" stroke-linecap="round"/>
<line x1="1198.1" y1="2227.0" x2="1240.3" y2="2227.0" stroke-width="5.85" stroke-linecap="round"/>
<line x1="1206.9" y1="2222.3" x2="1224.5" y2="2183.7" stroke-width="5.85" stroke-linecap="round"/>
<line x1="1221.4" y1="2222.3" x2="1239.0" y2="2183.7" stroke-width="5.85" stroke-linecap="round"/>
<line x1="1235.9" y1="2222.3" x2="1253.5" y2="2183.7" stroke-width="5.85" stroke-linecap="round"/>
<path d="M1272.0 2224.0 L1274.0 2227.0 L1266.0 2237.0" stroke-width="5.85" fill="none" stroke-linecap="round" stroke-linejoin="round"/>
<path d="M1387.5 2215.0 C1406.6 2203.0,1432.7 2178.0,1425.8 2166.0 C1418.8 2158.0,1401.4 2204.0,1395.3 2220.0 C1392.7 2234.0,1406.6 2235.0,1418.8 2220.0" stroke-width="5.85" fill="none" stroke-linecap="round" stroke-linejoin="round"/>
<line x1="1434.4" y1="2205.0" x2="1454.6" y2="2205.0" stroke-width="5.85" stroke-linecap="round"/>
<line x1="1432.4" y1="2218.0" x2="1452.6" y2="2218.0" stroke-width="5.85" stroke-linecap="round"/>
<g transform="translate(1507.6,2230.0) skewX(-22)" font-style="italic" font-size="71.4" stroke-width="2.6">
<text x="0.0" y="0" textLength="99.5" lengthAdjust="spacingAndGlyphs">270</text>
</g>
<g transform="translate(1066.7,2315.0) skewX(-22)" font-style="italic" font-size="71.4" stroke-width="2.6">
<text x="0.0" y="0" textLength="43.8" lengthAdjust="spacingAndGlyphs">ф</text>
<path d="M56.0 0 L64.0 -50.0 L48.5 -27.0" stroke-width="4.8" stroke-linecap="round" stroke-linejoin="round"/>
<text x="72.9" y="0" textLength="64.1" lengthAdjust="spacingAndGlyphs">0А</text>
</g>
<line x1="1243.8" y1="2265.0" x2="1281.8" y2="2265.0" stroke-width="5.85" stroke-linecap="round"/>
<line x1="1219.9" y1="2314.0" x2="1262.9" y2="2314.0" stroke-width="5.85" stroke-linecap="round"/>
<line x1="1228.8" y1="2309.3" x2="1247.3" y2="2268.7" stroke-width="5.85" stroke-linecap="round"/>
<line x1="1243.6" y1="2309.3" x2="1262.1" y2="2268.7" stroke-width="5.85" stroke-linecap="round"/>
<line x1="1258.4" y1="2309.3" x2="1276.9" y2="2268.7" stroke-width="5.85" stroke-linecap="round"/>
<path d="M1292.0 2311.0 L1294.0 2314.0 L1286.0 2324.0" stroke-width="5.85" fill="none" stroke-linecap="round" stroke-linejoin="round"/>
<path d="M1392.5 2306.5 C1408.0 2294.5,1429.2 2273.0,1423.6 2261.0 C1417.9 2253.0,1403.8 2299.0,1398.9 2310.0 C1396.7 2324.0,1408.0 2325.0,1417.9 2310.0" stroke-width="5.85" fill="none" stroke-linecap="round" stroke-linejoin="round"/>
<line x1="1431.9" y1="2296.8" x2="1452.1" y2="2296.8" stroke-width="5.85" stroke-linecap="round"/>
<line x1="1429.9" y1="2309.8" x2="1450.1" y2="2309.8" stroke-width="5.85" stroke-linecap="round"/>
<g transform="translate(1496.8,2320.0) skewX(-22)" font-style="italic" font-size="64.3" stroke-width="2.6">
<text x="0.0" y="0" textLength="133.2" lengthAdjust="spacingAndGlyphs">5900</text>
</g>
<g transform="translate(1063.9,2402.0) skewX(-22)" font-style="italic" font-size="71.4" stroke-width="2.6">
<text x="0.0" y="0" textLength="152.4" lengthAdjust="spacingAndGlyphs">ф25А</text>
</g>
<line x1="1256.3" y1="2352.0" x2="1300.1" y2="2352.0" stroke-width="5.85" stroke-linecap="round"/>
<line x1="1232.3" y1="2401.0" x2="1281.2" y2="2401.0" stroke-width="5.85" stroke-linecap="round"/>
<line x1="1242.0" y1="2396.3" x2="1260.5" y2="2355.7" stroke-width="5.85" stroke-linecap="round"/>
<line x1="1259.0" y1="2396.3" x2="1277.5" y2="2355.7" stroke-width="5.85" stroke-linecap="round"/>
<line x1="1276.0" y1="2396.3" x2="1294.5" y2="2355.7" stroke-width="5.85" stroke-linecap="round"/>
<path d="M1312.0 2398.0 L1314.0 2401.0 L1306.0 2411.0" stroke-width="5.85" fill="none" stroke-linecap="round" stroke-linejoin="round"/>
<path d="M1397.5 2387.5 C1413.0 2375.5,1434.2 2350.5,1428.6 2338.5 C1422.9 2330.5,1408.8 2376.5,1403.9 2392.5 C1401.7 2406.5,1413.0 2407.5,1422.9 2392.5" stroke-width="5.85" fill="none" stroke-linecap="round" stroke-linejoin="round"/>
<line x1="1436.9" y1="2377.5" x2="1457.1" y2="2377.5" stroke-width="5.85" stroke-linecap="round"/>
<line x1="1434.9" y1="2390.5" x2="1455.1" y2="2390.5" stroke-width="5.85" stroke-linecap="round"/>
<g transform="translate(1481.8,2402.5) skewX(-22)" font-style="italic" font-size="71.4" stroke-width="2.6">
<text x="0.0" y="0" textLength="133.7" lengthAdjust="spacingAndGlyphs">5900</text>
</g>
<g transform="translate(1069.0,2494.0) skewX(-22)" font-style="italic" font-size="71.4" stroke-width="2.6">
<text x="0.0" y="0" textLength="145.6" lengthAdjust="spacingAndGlyphs">ф22А</text>
</g>
<line x1="1254.6" y1="2444.0" x2="1295.9" y2="2444.0" stroke-width="5.85" stroke-linecap="round"/>
<line x1="1230.7" y1="2493.0" x2="1277.0" y2="2493.0" stroke-width="5.85" stroke-linecap="round"/>
<line x1="1240.0" y1="2488.3" x2="1258.5" y2="2447.7" stroke-width="5.85" stroke-linecap="round"/>
<line x1="1256.0" y1="2488.3" x2="1274.5" y2="2447.7" stroke-width="5.85" stroke-linecap="round"/>
<line x1="1272.0" y1="2488.3" x2="1290.5" y2="2447.7" stroke-width="5.85" stroke-linecap="round"/>
<path d="M1307.0 2490.0 L1309.0 2493.0 L1301.0 2503.0" stroke-width="5.85" fill="none" stroke-linecap="round" stroke-linejoin="round"/>
<path d="M1400.0 2478.2 C1415.4 2466.2,1436.4 2443.0,1430.8 2431.0 C1425.2 2423.0,1411.2 2469.0,1406.3 2482.5 C1404.2 2496.5,1415.4 2497.5,1425.2 2482.5" stroke-width="5.85" fill="none" stroke-linecap="round" stroke-linejoin="round"/>
<line x1="1436.9" y1="2468.4" x2="1457.1" y2="2468.4" stroke-width="5.85" stroke-linecap="round"/>
<line x1="1434.9" y1="2481.4" x2="1455.1" y2="2481.4" stroke-width="5.85" stroke-linecap="round"/>
<g transform="translate(1481.9,2492.5) skewX(-22)" font-style="italic" font-size="67.9" stroke-width="2.6">
<text x="0.0" y="0" textLength="129.5" lengthAdjust="spacingAndGlyphs">5700</text>
</g>
<g transform="translate(1067.0,2590.0) skewX(-22)" font-style="italic" font-size="74.3" stroke-width="2.6">
<text x="0.0" y="0" textLength="40.2" lengthAdjust="spacingAndGlyphs">ф</text>
<path d="M51.4 0 L59.8 -52.0 L43.6 -28.1" stroke-width="4.9" stroke-linecap="round" stroke-linejoin="round"/>
<text x="67.0" y="0" textLength="58.9" lengthAdjust="spacingAndGlyphs">0А</text>
</g>
<line x1="1234.7" y1="2538.0" x2="1268.0" y2="2538.0" stroke-width="5.85" stroke-linecap="round"/>
<line x1="1209.9" y1="2589.0" x2="1248.1" y2="2589.0" stroke-width="5.85" stroke-linecap="round"/>
<line x1="1218.3" y1="2584.3" x2="1237.7" y2="2541.7" stroke-width="5.85" stroke-linecap="round"/>
<line x1="1231.2" y1="2584.3" x2="1250.6" y2="2541.7" stroke-width="5.85" stroke-linecap="round"/>
<line x1="1244.2" y1="2584.3" x2="1263.6" y2="2541.7" stroke-width="5.85" stroke-linecap="round"/>
<path d="M1277.0 2586.0 L1279.0 2589.0 L1271.0 2599.0" stroke-width="5.85" fill="none" stroke-linecap="round" stroke-linejoin="round"/>
<path d="M1402.5 2576.0 C1417.9 2564.0,1438.9 2535.5,1433.3 2523.5 C1427.7 2515.5,1413.7 2561.5,1408.8 2582.5 C1406.7 2596.5,1417.9 2597.5,1427.7 2582.5" stroke-width="5.85" fill="none" stroke-linecap="round" stroke-linejoin="round"/>
<line x1="1436.9" y1="2565.7" x2="1457.1" y2="2565.7" stroke-width="5.85" stroke-linecap="round"/>
<line x1="1434.9" y1="2578.7" x2="1455.1" y2="2578.7" stroke-width="5.85" stroke-linecap="round"/>
<g transform="translate(1502.5,2592.5) skewX(-22)" font-style="italic" font-size="78.6" stroke-width="2.6">
<text x="0.0" y="0" textLength="105.3" lengthAdjust="spacingAndGlyphs">270</text>
</g>
<path d="M1842.0 1960.0 L1863.0 1915.0 L1839.6 1938.4" stroke-width="5.175" fill="none" stroke-linecap="round" stroke-linejoin="round"/>
<g transform="translate(1959.8,1965.0) skewX(-22)" font-style="italic" font-size="71.4" stroke-width="2.6">
<text x="0.0" y="0" textLength="115.3" lengthAdjust="spacingAndGlyphs">3,65</text>
</g>
<path d="M1842.0 2045.0 L1865.5 2005.0 L1844.7 2025.8" stroke-width="5" fill="none" stroke-linecap="round" stroke-linejoin="round"/>
<g transform="translate(1944.0,2052.0) skewX(-22)" font-style="italic" font-size="74.3" stroke-width="2.6">
<text x="0.0" y="0" textLength="145.9" lengthAdjust="spacingAndGlyphs">22,66</text>
</g>
<path d="M1829.5 2137.5 L1855.5 2092.5 L1832.1 2115.9" stroke-width="5.175" fill="none" stroke-linecap="round" stroke-linejoin="round"/>
<g transform="translate(1951.9,2140.0) skewX(-22)" font-style="italic" font-size="67.9" stroke-width="2.6">
<path d="M12.1 0 L19.7 -47.5 L5.0 -25.7" stroke-width="4.5" stroke-linecap="round" stroke-linejoin="round"/>
<text x="28.8" y="0" textLength="71.9" lengthAdjust="spacingAndGlyphs">7,0</text>
<path d="M112.8 0 L120.4 -47.5 L105.7 -25.7" stroke-width="4.5" stroke-linecap="round" stroke-linejoin="round"/>
</g>
<g transform="translate(1806.1,2227.5) skewX(-22)" font-style="italic" font-size="71.4" stroke-width="2.6">
<text x="0.0" y="0" textLength="60.2" lengthAdjust="spacingAndGlyphs">39</text>
</g>
<g transform="translate(1972.9,2225.0) skewX(-22)" font-style="italic" font-size="71.4" stroke-width="2.6">
<text x="0.0" y="0" textLength="37.0" lengthAdjust="spacingAndGlyphs">0,</text>
<path d="M47.4 0 L55.4 -50.0 L39.9 -27.0" stroke-width="4.8" stroke-linecap="round" stroke-linejoin="round"/>
<path d="M72.1 0 L80.1 -50.0 L64.6 -27.0" stroke-width="4.8" stroke-linecap="round" stroke-linejoin="round"/>
</g>
<g transform="translate(2216.2,2137.5) skewX(-22)" font-style="italic" font-size="78.6" stroke-width="2.6">
<text x="0.0" y="0" textLength="115.8" lengthAdjust="spacingAndGlyphs">47,6</text>
</g>
<path d="M1834.7 2306.5 L1867.0 2260.0 L1842.8 2284.2" stroke-width="5.3475" fill="none" stroke-linecap="round" stroke-linejoin="round"/>
<g transform="translate(1953.2,2310.0) skewX(-22)" font-style="italic" font-size="71.4" stroke-width="2.6">
<text x="0.0" y="0" textLength="111.3" lengthAdjust="spacingAndGlyphs">3,65</text>
</g>
<path d="M1838.0 2393.0 L1864.0 2350.0 L1841.6 2372.4" stroke-width="5" fill="none" stroke-linecap="round" stroke-linejoin="round"/>
<g transform="translate(1942.1,2400.0) skewX(-22)" font-style="italic" font-size="74.3" stroke-width="2.6">
<text x="0.0" y="0" textLength="156.2" lengthAdjust="spacingAndGlyphs">22,66</text>
</g>
<path d="M1834.7 2489.6 L1860.6 2436.0 L1832.7 2463.9" stroke-width="6.16399999999999" fill="none" stroke-linecap="round" stroke-linejoin="round"/>
<g transform="translate(1962.5,2492.0) skewX(-22)" font-style="italic" font-size="77.1" stroke-width="2.6">
<path d="M12.9 0 L21.5 -54.0 L4.8 -29.2" stroke-width="5.1" stroke-linecap="round" stroke-linejoin="round"/>
<text x="30.7" y="0" textLength="76.6" lengthAdjust="spacingAndGlyphs">7,0</text>
<path d="M120.2 0 L128.8 -54.0 L112.1 -29.2" stroke-width="5.1" stroke-linecap="round" stroke-linejoin="round"/>
</g>
<g transform="translate(1814.5,2579.4) skewX(-22)" font-style="italic" font-size="71.3" stroke-width="2.6">
<text x="0.0" y="0" textLength="62.8" lengthAdjust="spacingAndGlyphs">39</text>
</g>
<g transform="translate(1970.2,2588.0) skewX(-22)" font-style="italic" font-size="75.7" stroke-width="2.6">
<text x="0.0" y="0" textLength="41.3" lengthAdjust="spacingAndGlyphs">0,</text>
<path d="M52.8 0 L61.3 -53.0 L44.9 -28.6" stroke-width="5.0" stroke-linecap="round" stroke-linejoin="round"/>
<text x="68.8" y="0" textLength="27.5" lengthAdjust="spacingAndGlyphs">7</text>
</g>
<g transform="translate(2216.1,2446.0) skewX(-22)" font-style="italic" font-size="75.7" stroke-width="2.6">
<text x="0.0" y="0" textLength="110.1" lengthAdjust="spacingAndGlyphs">49,9</text>
</g>
<g transform="translate(1352.8,3034.0) skewX(-22)" font-style="italic" font-size="92.9" stroke-width="2.2">
<path d="M19.0 0 L29.4 -65.0 L9.3 -35.1" stroke-width="6.2" stroke-linecap="round" stroke-linejoin="round"/>
<text x="45.3" y="0" textLength="68.0" lengthAdjust="spacingAndGlyphs">.4</text>
<path d="M132.4 0 L142.8 -65.0 L122.7 -35.1" stroke-width="6.2" stroke-linecap="round" stroke-linejoin="round"/>
<text x="158.7" y="0" textLength="68.0" lengthAdjust="spacingAndGlyphs">5.</text>
<path d="M268.4 0 L278.8 -65.0 L258.7 -35.1" stroke-width="6.2" stroke-linecap="round" stroke-linejoin="round"/>
<text x="294.7" y="0" textLength="167.7" lengthAdjust="spacingAndGlyphs">-2.6-</text>
<path d="M481.4 0 L491.8 -65.0 L471.7 -35.1" stroke-width="6.2" stroke-linecap="round" stroke-linejoin="round"/>
<text x="507.7" y="0" textLength="45.3" lengthAdjust="spacingAndGlyphs">5</text>
</g>
<g transform="translate(1010.1,3243.0) skewX(-22)" font-style="italic" font-size="105.7" stroke-width="2.4">
<text x="0.0" y="0" textLength="315.0" lengthAdjust="spacingAndGlyphs">Каркас КР</text>
<path d="M330.4 0 L342.3 -74.0 L319.3 -40.0" stroke-width="7.0" stroke-linecap="round" stroke-linejoin="round"/>
<text x="351.7" y="0" textLength="156.5" lengthAdjust="spacingAndGlyphs">... КР</text>
<path d="M523.7 0 L535.6 -74.0 L512.6 -40.0" stroke-width="7.0" stroke-linecap="round" stroke-linejoin="round"/>
<text x="545.0" y="0" textLength="36.8" lengthAdjust="spacingAndGlyphs">3</text>
</g>
<g transform="translate(1783.3,3144.5) skewX(-22)" font-style="italic" font-weight="bold" font-size="67.9" stroke-width="0.9">
<text x="0.0" y="0" textLength="155.7" lengthAdjust="spacingAndGlyphs">Стадия</text>
</g>
<g transform="translate(1969.7,3144.5) skewX(-22)" font-style="italic" font-weight="bold" font-size="67.9" stroke-width="0.9">
<text x="0.0" y="0" textLength="125.1" lengthAdjust="spacingAndGlyphs">Лист</text>
</g>
<g transform="translate(2153.8,3144.5) skewX(-22)" font-style="italic" font-weight="bold" font-size="67.9" stroke-width="0.9">
<text x="0.0" y="0" textLength="177.2" lengthAdjust="spacingAndGlyphs">Листов</text>
</g>
<g transform="translate(1855.8,3199.0) skewX(-22)" font-style="italic" font-weight="bold" font-size="62.9" stroke-width="0.9">
<text x="0.0" y="0" textLength="22.6" lengthAdjust="spacingAndGlyphs">Р</text>
</g>
<path d="M2038.0 3196.0 L2069.0 3155.0 L2047.7 3176.3" stroke-width="5" fill="none" stroke-linecap="round" stroke-linejoin="round"/>
<g transform="translate(2237.0,3198.0) skewX(-22)" font-style="italic" font-weight="bold" font-size="65.7" stroke-width="0.9">
<text x="0.0" y="0" textLength="24.4" lengthAdjust="spacingAndGlyphs">3</text>
</g>
<g transform="translate(1790.3,3315.5) skewX(-22)" font-style="italic" font-weight="bold" font-size="77.9" stroke-width="0.5">
<text x="0.0" y="0" textLength="492.1" lengthAdjust="spacingAndGlyphs">ЦНИИПРОМЗДАНИИ</text>
</g>
<g transform="translate(210.9,3141.0) skewX(-22)" font-style="italic" font-weight="bold" font-size="62.9" stroke-width="0.9">
<text x="0.0" y="0" textLength="170.3" lengthAdjust="spacingAndGlyphs">Гл.инж.пр</text>
</g>
<g transform="translate(399.4,3141.0) skewX(-22)" font-style="italic" font-weight="bold" font-size="62.9" stroke-width="0.9">
<text x="0.0" y="0" textLength="233.3" lengthAdjust="spacingAndGlyphs">Бажанова</text>
</g>
<g transform="translate(216.6,3197.0) skewX(-22)" font-style="italic" font-weight="bold" font-size="64.3" stroke-width="0.9">
<text x="0.0" y="0" textLength="142.2" lengthAdjust="spacingAndGlyphs">Разраб.</text>
</g>
<g transform="translate(410.7,3197.0) skewX(-22)" font-style="italic" font-weight="bold" font-size="64.3" stroke-width="0.9">
<text x="0.0" y="0" textLength="181.5" lengthAdjust="spacingAndGlyphs">Святова</text>
</g>
<g transform="translate(216.5,3258.0) skewX(-22)" font-style="italic" font-weight="bold" font-size="68.6" stroke-width="0.9">
<text x="0.0" y="0" textLength="147.2" lengthAdjust="spacingAndGlyphs">Исполн.</text>
</g>
<g transform="translate(401.9,3258.0) skewX(-22)" font-style="italic" font-weight="bold" font-size="68.6" stroke-width="0.9">
<text x="0.0" y="0" textLength="236.4" lengthAdjust="spacingAndGlyphs">Николаева</text>
</g>
<g transform="translate(216.9,3315.0) skewX(-22)" font-style="italic" font-weight="bold" font-size="64.3" stroke-width="0.9">
<text x="0.0" y="0" textLength="130.5" lengthAdjust="spacingAndGlyphs">Провер</text>
</g>
<g transform="translate(405.6,3315.0) skewX(-22)" font-style="italic" font-weight="bold" font-size="64.3" stroke-width="0.9">
<text x="0.0" y="0" textLength="183.6" lengthAdjust="spacingAndGlyphs">Петрова</text>
</g>
<defs><clipPath id="br"><rect x="200" y="3300" width="500" height="82"/></clipPath></defs><g clip-path="url(#br)">
<g transform="translate(215.7,3377.0) skewX(-22)" font-style="italic" font-weight="bold" font-size="67.1" stroke-width="0.9">
<text x="0.0" y="0" textLength="178.8" lengthAdjust="spacingAndGlyphs">Н. контр.</text>
</g>
<g transform="translate(407.9,3377.0) skewX(-22)" font-style="italic" font-weight="bold" font-size="67.1" stroke-width="0.9">
<text x="0.0" y="0" textLength="191.6" lengthAdjust="spacingAndGlyphs">Петрова</text>
</g>
</g>
<text transform="translate(116.0,2668.0) rotate(-90) skewX(-22)" font-style="italic" font-weight="bold" font-size="71.4" textLength="270.8" lengthAdjust="spacingAndGlyphs" stroke-width="0.6">Взам. инв. №</text>
<text transform="translate(125.0,3067.0) rotate(-90) skewX(-22)" font-style="italic" font-weight="bold" font-size="91.4" textLength="386.1" lengthAdjust="spacingAndGlyphs" stroke-width="0.6">Подпись и дата</text>
<text transform="translate(120.0,3366.0) rotate(-90) skewX(-22)" font-style="italic" font-weight="bold" font-size="84.3" textLength="242.0" lengthAdjust="spacingAndGlyphs" stroke-width="0.6">Инв. № подл.</text>
<path d="M692.5 3138.7 C695.0 3133.4,702.2 3117.8,707.3 3107.1 C712.4 3096.5,720.4 3080.0,723.1 3074.6" stroke-width="5.41" fill="none" stroke-linecap="round" stroke-linejoin="round"/>
<path d="M717.1 3097.3 C718.9 3097.1,725.7 3095.0,728.0 3096.3 C730.3 3097.6,732.4 3102.4,730.9 3105.2 C729.5 3108.0,719.4 3111.4,719.1 3113.1 C718.8 3114.7,727.2 3112.4,729.0 3115.0 C730.8 3117.7,731.6 3125.2,730.0 3128.8 C728.3 3132.4,721.9 3135.7,719.1 3136.7 C716.3 3137.7,714.2 3135.1,713.2 3134.7" stroke-width="5.4" fill="none" stroke-linecap="round" stroke-linejoin="round"/>
<path d="M725.0 3134.7 C727.3 3130.5,735.2 3115.0,738.8 3109.1 C742.4 3103.2,744.1 3101.6,746.7 3099.3 C749.3 3097.0,753.3 3096.0,754.6 3095.3" stroke-width="5.4" fill="none" stroke-linecap="round" stroke-linejoin="round"/>
<path d="M744.7 3141.6 C745.6 3137.8,747.4 3127.7,749.7 3119.0 C752.0 3110.3,755.1 3097.0,758.5 3089.4 C762.0 3081.9,765.7 3077.6,770.3 3073.6 C774.9 3069.7,781.5 3066.7,786.1 3065.8 C790.7 3064.8,795.3 3066.1,797.9 3067.7 C800.6 3069.4,801.4 3072.0,801.9 3075.6 C802.4 3079.2,801.1 3087.1,800.9 3089.4" stroke-width="5.0" fill="none" stroke-linecap="round" stroke-linejoin="round"/>
<path d="M786.1 3107.1 C784.5 3108.5,778.2 3113.1,776.3 3115.0 C774.3 3117.0,772.6 3118.5,774.3 3119.0 C775.9 3119.5,782.2 3117.5,786.1 3118.0 C790.0 3118.5,792.7 3122.1,797.9 3121.9 C803.2 3121.8,811.1 3118.5,817.6 3117.0 C824.2 3115.5,830.1 3114.4,837.3 3113.1 C844.6 3111.7,853.8 3110.1,861.0 3109.1 C868.2 3108.1,876.9 3106.8,880.7 3107.1 C884.5 3107.5,883.4 3109.8,883.6 3111.1 C883.9 3112.4,882.5 3114.4,882.3 3115.0" stroke-width="4.8" fill="none" stroke-linecap="round" stroke-linejoin="round"/>
<ellipse cx="712" cy="3172" rx="26" ry="21.5" transform="rotate(-22 712 3172)" stroke-width="3.4"/>
<path d="M696.5 3189.9 C698.6 3186.6,704.5 3176.8,709.3 3170.2 C714.0 3163.6,722.4 3153.8,725.0 3150.5" stroke-width="5.41" fill="none" stroke-linecap="round" stroke-linejoin="round"/>
<path d="M725.0 3150.5 C727.3 3150.8,735.9 3150.2,738.8 3152.5 C741.8 3154.8,743.4 3160.3,742.8 3164.3 C742.1 3168.2,738.8 3172.5,734.9 3176.1 C730.9 3179.7,722.7 3184.0,719.1 3186.0 C715.5 3187.9,714.2 3187.6,713.2 3187.9" stroke-width="5.4" fill="none" stroke-linecap="round" stroke-linejoin="round"/>
<path d="M734.9 3176.1 C736.5 3174.1,741.8 3166.9,744.7 3164.3 C747.7 3161.7,752.0 3158.4,752.6 3160.3 C753.3 3162.3,748.7 3172.5,748.7 3176.1 C748.7 3179.7,749.7 3183.3,752.6 3182.0 C755.6 3180.7,763.1 3171.2,766.4 3168.2 C769.7 3165.3,771.7 3162.6,772.3 3164.3 C773.0 3165.9,769.7 3175.1,770.3 3178.1 C771.0 3181.0,773.3 3183.3,776.3 3182.0 C779.2 3180.7,784.8 3172.8,788.1 3170.2 C791.4 3167.6,795.0 3165.3,796.0 3166.3 C796.9 3167.2,793.0 3174.1,794.0 3176.1 C795.0 3178.1,798.6 3178.1,801.9 3178.1 C805.2 3178.1,810.9 3175.8,813.7 3176.1 C816.5 3176.4,818.3 3178.4,818.6 3180.0 C818.9 3181.7,817.3 3184.3,815.7 3186.0 C814.0 3187.7,809.9 3189.6,808.8 3190.3" stroke-width="5.41" fill="none" stroke-linecap="round" stroke-linejoin="round"/>
<path d="M685.6 3227.3 C686.9 3226.0,689.6 3221.8,693.5 3219.5 C697.4 3217.2,704.0 3213.9,709.3 3213.5 C714.5 3213.2,721.7 3215.2,725.0 3217.5 C728.3 3219.8,729.0 3223.7,729.0 3227.3 C729.0 3231.0,728.0 3235.9,725.0 3239.2 C722.1 3242.4,716.2 3245.4,711.2 3247.0 C706.3 3248.7,699.4 3249.3,695.5 3249.0 C691.5 3248.7,687.3 3247.4,687.6 3245.1 C687.9 3242.8,693.8 3237.2,697.4 3235.2 C701.1 3233.3,707.3 3233.6,709.3 3233.3" stroke-width="6.95" fill="none" stroke-linecap="round" stroke-linejoin="round"/>
<path d="M689.6 3233.3 C691.2 3231.9,695.5 3227.0,699.4 3225.4 C703.3 3223.7,709.9 3222.7,713.2 3223.4 C716.5 3224.1,718.1 3228.3,719.1 3229.3" stroke-width="8.05" fill="none" stroke-linecap="round" stroke-linejoin="round"/>
<path d="M683.6 3253.0 C685.0 3252.3,687.3 3250.0,691.5 3249.0 C695.8 3248.0,703.7 3247.0,709.3 3247.0 C714.8 3247.0,720.8 3249.3,725.0 3249.0 C729.3 3248.7,732.2 3247.4,734.9 3245.1 C737.5 3242.8,740.1 3235.2,740.8 3235.2 C741.4 3235.2,737.8 3243.1,738.8 3245.1 C739.8 3247.0,743.7 3248.0,746.7 3247.0 C749.7 3246.1,754.3 3241.1,756.6 3239.2 C758.9 3237.2,760.2 3234.2,760.5 3235.2 C760.8 3236.2,757.5 3243.1,758.5 3245.1 C759.5 3247.0,763.4 3248.0,766.4 3247.0 C769.4 3246.1,774.3 3241.1,776.3 3239.2 C778.2 3237.2,777.9 3235.9,778.2 3235.2" stroke-width="5.85" fill="none" stroke-linecap="round" stroke-linejoin="round"/>
<path d="M807.8 3217.5 C807.5 3219.8,807.5 3226.4,805.8 3231.3 C804.2 3236.2,802.2 3242.4,797.9 3247.0 C793.7 3251.6,783.2 3256.9,780.2 3258.9" stroke-width="5.4" fill="none" stroke-linecap="round" stroke-linejoin="round"/>
<line x1="800.1" y1="3247.0" x2="817.4" y2="3247.0" stroke-width="4.4" stroke-linecap="round"/>
<path d="M692.5 3283.5 C695.0 3284.0,701.9 3287.6,707.3 3286.5 C712.7 3285.3,719.1 3278.9,725.0 3276.6 C730.9 3274.3,739.8 3273.3,742.8 3272.7" stroke-width="5.4" fill="none" stroke-linecap="round" stroke-linejoin="round"/>
<path d="M729.0 3274.6 C727.3 3277.6,723.1 3287.1,719.1 3292.4 C715.2 3297.6,709.9 3302.4,705.3 3306.2 C700.7 3309.9,693.8 3313.5,691.5 3315.0" stroke-width="6.95" fill="none" stroke-linecap="round" stroke-linejoin="round"/>
<path d="M679.7 3306.2 C681.3 3305.8,685.9 3303.2,689.6 3304.2 C693.2 3305.2,697.8 3310.3,701.4 3312.1 C705.0 3313.9,709.6 3314.5,711.2 3315.0" stroke-width="6.95" fill="none" stroke-linecap="round" stroke-linejoin="round"/>
<path d="M719.1 3308.1 C720.8 3306.8,725.7 3301.9,729.0 3300.2 C732.2 3298.6,736.8 3297.3,738.8 3298.3 C740.8 3299.3,739.1 3304.8,740.8 3306.2 C742.4 3307.5,745.7 3307.1,748.7 3306.2 C751.6 3305.2,756.2 3300.2,758.5 3300.2 C760.8 3300.2,760.2 3305.8,762.5 3306.2 C764.8 3306.5,769.0 3302.2,772.3 3302.2 C775.6 3302.2,778.6 3305.8,782.2 3306.2 C785.8 3306.5,792.0 3304.5,794.0 3304.2" stroke-width="5.85" fill="none" stroke-linecap="round" stroke-linejoin="round"/>
<path d="M762.5 3278.6 C764.4 3279.6,770.3 3281.9,774.3 3284.5 C778.2 3287.1,783.5 3291.7,786.1 3294.3 C788.7 3297.0,789.4 3299.3,790.0 3300.2" stroke-width="5.4" fill="none" stroke-linecap="round" stroke-linejoin="round"/>
<path d="M823.5 3268.7 C822.2 3271.0,819.3 3276.6,815.7 3282.5 C812.1 3288.4,807.8 3297.0,801.9 3304.2 C796.0 3311.4,783.8 3322.2,780.2 3325.9" stroke-width="5.41" fill="none" stroke-linecap="round" stroke-linejoin="round"/>
<path d="M778.2 3282.5 C781.5 3282.2,791.7 3281.5,797.9 3280.5 C804.2 3279.6,812.7 3277.3,815.7 3276.6" stroke-width="4.4" fill="none" stroke-linecap="round" stroke-linejoin="round"/>
<path d="M811.7 3296.3 C810.7 3297.9,808.1 3303.0,805.8 3306.2 C803.5 3309.3,799.2 3313.5,797.9 3315.0" stroke-width="5.85" fill="none" stroke-linecap="round" stroke-linejoin="round"/>
<path d="M687.6 3339.7 C689.6 3340.3,695.1 3343.9,699.4 3343.6 C703.7 3343.3,708.9 3339.0,713.2 3337.7 C717.5 3336.4,723.1 3336.0,725.0 3335.7" stroke-width="5.4" fill="none" stroke-linecap="round" stroke-linejoin="round"/>
<path d="M719.1 3323.9 C716.8 3327.5,710.2 3339.0,705.3 3345.6 C700.4 3352.1,695.1 3358.4,689.6 3363.3 C684.0 3368.2,674.8 3373.2,671.8 3375.1" stroke-width="6.4" fill="none" stroke-linecap="round" stroke-linejoin="round"/>
<path d="M705.3 3369.2 C707.3 3367.9,713.5 3363.0,717.1 3361.3 C720.8 3359.7,725.0 3358.4,727.0 3359.4 C729.0 3360.3,727.0 3365.9,729.0 3367.2 C730.9 3368.6,735.5 3368.6,738.8 3367.2 C742.1 3365.9,746.4 3359.4,748.7 3359.4 C751.0 3359.4,750.3 3366.3,752.6 3367.2 C754.9 3368.2,759.2 3366.3,762.5 3365.3 C765.7 3364.3,769.7 3361.3,772.3 3361.3 C774.9 3361.3,778.6 3363.3,778.2 3365.3 C777.9 3367.2,773.0 3371.2,770.3 3373.2 C767.7 3375.1,763.8 3376.4,762.5 3377.1" stroke-width="5.85" fill="none" stroke-linecap="round" stroke-linejoin="round"/>
<path d="M758.5 3331.8 C759.5 3333.7,762.5 3339.3,764.4 3343.6 C766.4 3347.9,769.4 3355.1,770.3 3357.4" stroke-width="5.4" fill="none" stroke-linecap="round" stroke-linejoin="round"/>
<path d="M758.5 3331.8 C761.8 3331.4,773.0 3330.5,778.2 3329.8 C783.5 3329.1,788.1 3328.2,790.0 3327.8" stroke-width="4.4" fill="none" stroke-linecap="round" stroke-linejoin="round"/>
<line x1="799.8" y1="3328.6" x2="803.9" y2="3326.0" stroke-width="4.4" stroke-linecap="round"/>
<path d="M808.8 3338.7 C808.3 3340.5,807.6 3345.7,805.8 3349.5 C804.0 3353.3,799.9 3358.7,797.9 3361.3 C796.0 3364.0,793.3 3364.9,794.0 3365.3 C794.6 3365.6,800.6 3363.6,801.9 3363.3" stroke-width="5.85" fill="none" stroke-linecap="round" stroke-linejoin="round"/>
<defs><clipPath id="bc"><rect x="1700" y="3385" width="700" height="30.5"/></clipPath></defs><g clip-path="url(#bc)">
<g transform="translate(1739.0,3436.0) skewX(-14)" font-style="italic" font-size="57.1" stroke-width="1.2">
<text x="0.0" y="0" textLength="249.9" lengthAdjust="spacingAndGlyphs">3Ц477-03</text>
</g>
<g transform="translate(2085.9,3436.0) skewX(-14)" font-style="italic" font-size="57.1" stroke-width="1.2">
<text x="0.0" y="0" textLength="46.2" lengthAdjust="spacingAndGlyphs">30</text>
</g>
</g>
</svg>
</body></html>
